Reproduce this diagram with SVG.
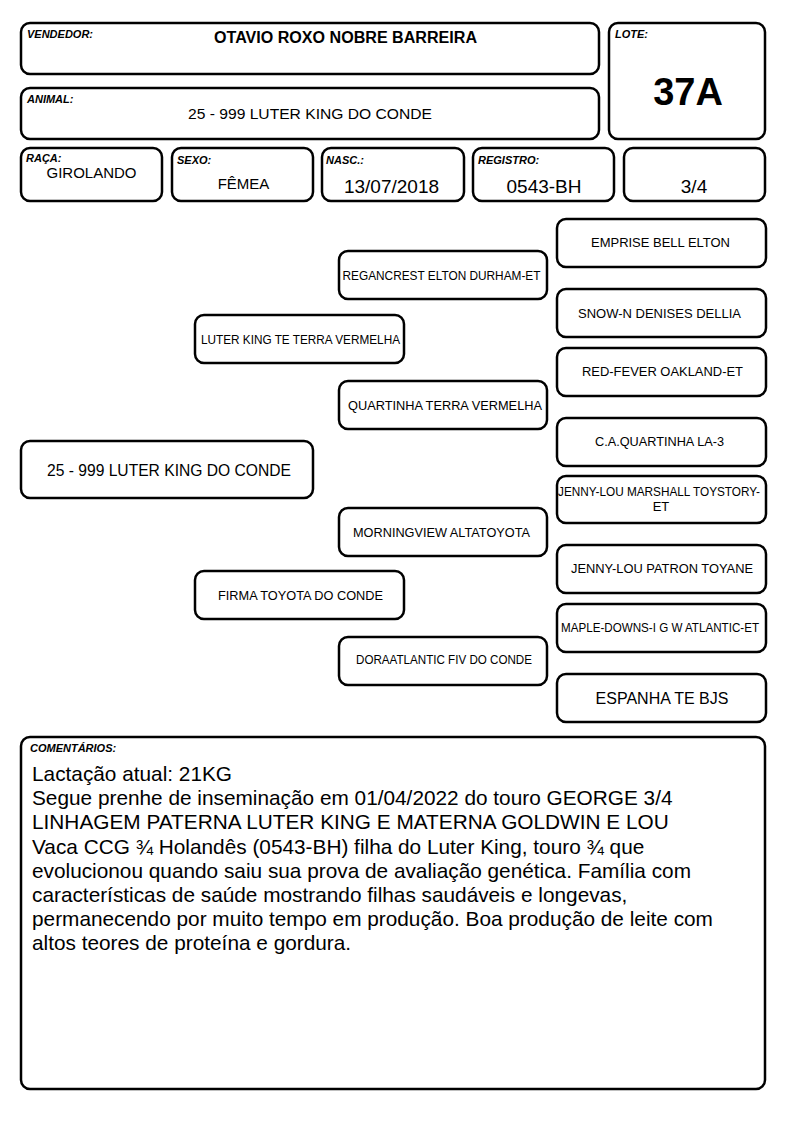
<svg xmlns="http://www.w3.org/2000/svg" width="794" height="1123" viewBox="0 0 794 1123">
<style>
.b{fill:#fff;stroke:#000;stroke-width:2.5}
.lbl{font-family:"Liberation Sans",Arial,sans-serif;font-size:11px;font-weight:bold;font-style:italic;fill:#000}
.v{font-family:"Liberation Sans",Arial,sans-serif;fill:#000;text-anchor:middle}
.p{font-family:"Liberation Sans",Arial,sans-serif;font-size:13px;fill:#000;text-anchor:middle}
.c{font-family:"Liberation Sans",Arial,sans-serif;font-size:20.8px;fill:#000}
</style>
<rect width="794" height="1123" fill="#fff"/>
<g id="vendedor"><rect class="b" x="21" y="23" width="578" height="51" rx="9"/><text class="lbl" x="27" y="38">VENDEDOR:</text><text class="v" x="345.5" y="43" font-size="16" font-weight="bold" textLength="263" lengthAdjust="spacingAndGlyphs">OTAVIO ROXO NOBRE BARREIRA</text></g>
<g id="animal"><rect class="b" x="21" y="88" width="578" height="51" rx="9"/><text class="lbl" x="27" y="103">ANIMAL:</text><text class="v" x="310" y="119" font-size="15.5" textLength="244" lengthAdjust="spacingAndGlyphs">25 - 999 LUTER KING DO CONDE</text></g>
<g id="lote"><rect class="b" x="609" y="23" width="156" height="116" rx="9"/><text class="lbl" x="615" y="38">LOTE:</text><text class="v" x="688" y="105" font-size="38" font-weight="bold">37A</text></g>
<g id="raca"><rect class="b" x="21" y="148" width="141" height="53" rx="9"/><text class="lbl" x="26" y="162">RAÇA:</text><text class="v" x="91.5" y="178" font-size="15">GIROLANDO</text></g>
<g id="sexo"><rect class="b" x="172" y="148" width="141" height="53" rx="9"/><text class="lbl" x="177" y="164">SEXO:</text><text class="v" x="243.5" y="189" font-size="15">FÊMEA</text></g>
<g id="nasc"><rect class="b" x="322" y="148" width="142" height="53" rx="9"/><text class="lbl" x="326" y="164">NASC.:</text><text class="v" x="391.5" y="193" font-size="19">13/07/2018</text></g>
<g id="registro"><rect class="b" x="473" y="148" width="141" height="53" rx="9"/><text class="lbl" x="478" y="164">REGISTRO:</text><text class="v" x="544" y="193" font-size="19">0543-BH</text></g>
<g id="grau"><rect class="b" x="624" y="148" width="141" height="53" rx="9"/><text class="v" x="694" y="193" font-size="19">3/4</text></g>
<g id="main"><rect class="b" x="21" y="441" width="292" height="57" rx="9"/><text class="v" x="169" y="476" font-size="16.5" textLength="244" lengthAdjust="spacingAndGlyphs">25 - 999 LUTER KING DO CONDE</text></g>
<g id="sire"><rect class="b" x="195" y="315" width="209" height="48" rx="9"/><text class="p" x="300.5" y="344" textLength="199" lengthAdjust="spacingAndGlyphs">LUTER KING TE TERRA VERMELHA</text></g>
<g id="dam"><rect class="b" x="195" y="571" width="209" height="48" rx="9"/><text class="p" x="300.5" y="600" textLength="165" lengthAdjust="spacingAndGlyphs">FIRMA TOYOTA DO CONDE</text></g>
<g id="ss"><rect class="b" x="339" y="251" width="208" height="48" rx="9"/><text class="p" x="441.5" y="280" textLength="198" lengthAdjust="spacingAndGlyphs">REGANCREST ELTON DURHAM-ET</text></g>
<g id="sd"><rect class="b" x="339" y="381" width="208" height="48" rx="9"/><text class="p" x="445" y="410" textLength="194" lengthAdjust="spacingAndGlyphs">QUARTINHA TERRA VERMELHA</text></g>
<g id="ds"><rect class="b" x="339" y="508" width="208" height="48" rx="9"/><text class="p" x="441.5" y="537" textLength="177" lengthAdjust="spacingAndGlyphs">MORNINGVIEW ALTATOYOTA</text></g>
<g id="dd"><rect class="b" x="339" y="637" width="208" height="48" rx="9"/><text class="p" x="444" y="664" textLength="176" lengthAdjust="spacingAndGlyphs">DORAATLANTIC FIV DO CONDE</text></g>
<g id="sss"><rect class="b" x="557" y="219" width="209" height="48" rx="9"/><text class="p" x="660.5" y="247" textLength="139" lengthAdjust="spacingAndGlyphs">EMPRISE BELL ELTON</text></g>
<g id="ssd"><rect class="b" x="557" y="289" width="209" height="48" rx="9"/><text class="p" x="659.5" y="318" textLength="163" lengthAdjust="spacingAndGlyphs">SNOW-N DENISES DELLIA</text></g>
<g id="sds"><rect class="b" x="557" y="348" width="209" height="48" rx="9"/><text class="p" x="662.5" y="376" textLength="161" lengthAdjust="spacingAndGlyphs">RED-FEVER OAKLAND-ET</text></g>
<g id="sdd"><rect class="b" x="557" y="418" width="209" height="48" rx="9"/><text class="p" x="659.5" y="446" textLength="129" lengthAdjust="spacingAndGlyphs">C.A.QUARTINHA LA-3</text></g>
<g id="dss"><rect class="b" x="557" y="476" width="209" height="47" rx="9"/><text class="p" x="659" y="496" textLength="202" lengthAdjust="spacingAndGlyphs">JENNY-LOU MARSHALL TOYSTORY-</text><text class="p" x="661" y="511">ET</text></g>
<g id="dsd"><rect class="b" x="557" y="545" width="209" height="48" rx="9"/><text class="p" x="662" y="573" textLength="182" lengthAdjust="spacingAndGlyphs">JENNY-LOU PATRON TOYANE</text></g>
<g id="dds"><rect class="b" x="557" y="604" width="209" height="48" rx="9"/><text class="p" x="660" y="632" textLength="198" lengthAdjust="spacingAndGlyphs">MAPLE-DOWNS-I G W ATLANTIC-ET</text></g>
<g id="ddd"><rect class="b" x="557" y="674" width="209" height="48" rx="9"/><text class="v" x="662" y="704" font-size="16">ESPANHA TE BJS</text></g>
<g id="connectors"></g>
<g id="comentarios"><rect class="b" x="21" y="737" width="744" height="352" rx="9"/><text class="lbl" x="30" y="752">COMENTÁRIOS:</text>
<text class="c" x="32" y="781">Lactação atual: 21KG</text>
<text class="c" x="32" y="805">Segue prenhe de inseminação em 01/04/2022 do touro GEORGE 3/4</text>
<text class="c" x="32" y="829">LINHAGEM PATERNA LUTER KING E MATERNA GOLDWIN E LOU</text>
<text class="c" x="32" y="854">Vaca CCG ¾ Holandês (0543-BH) filha do Luter King, touro ¾ que</text>
<text class="c" x="32" y="878">evolucionou quando saiu sua prova de avaliação genética. Família com</text>
<text class="c" x="32" y="902">características de saúde mostrando filhas saudáveis e longevas,</text>
<text class="c" x="32" y="926">permanecendo por muito tempo em produção. Boa produção de leite com</text>
<text class="c" x="32" y="950">altos teores de proteína e gordura.</text>
</g>
</svg>
